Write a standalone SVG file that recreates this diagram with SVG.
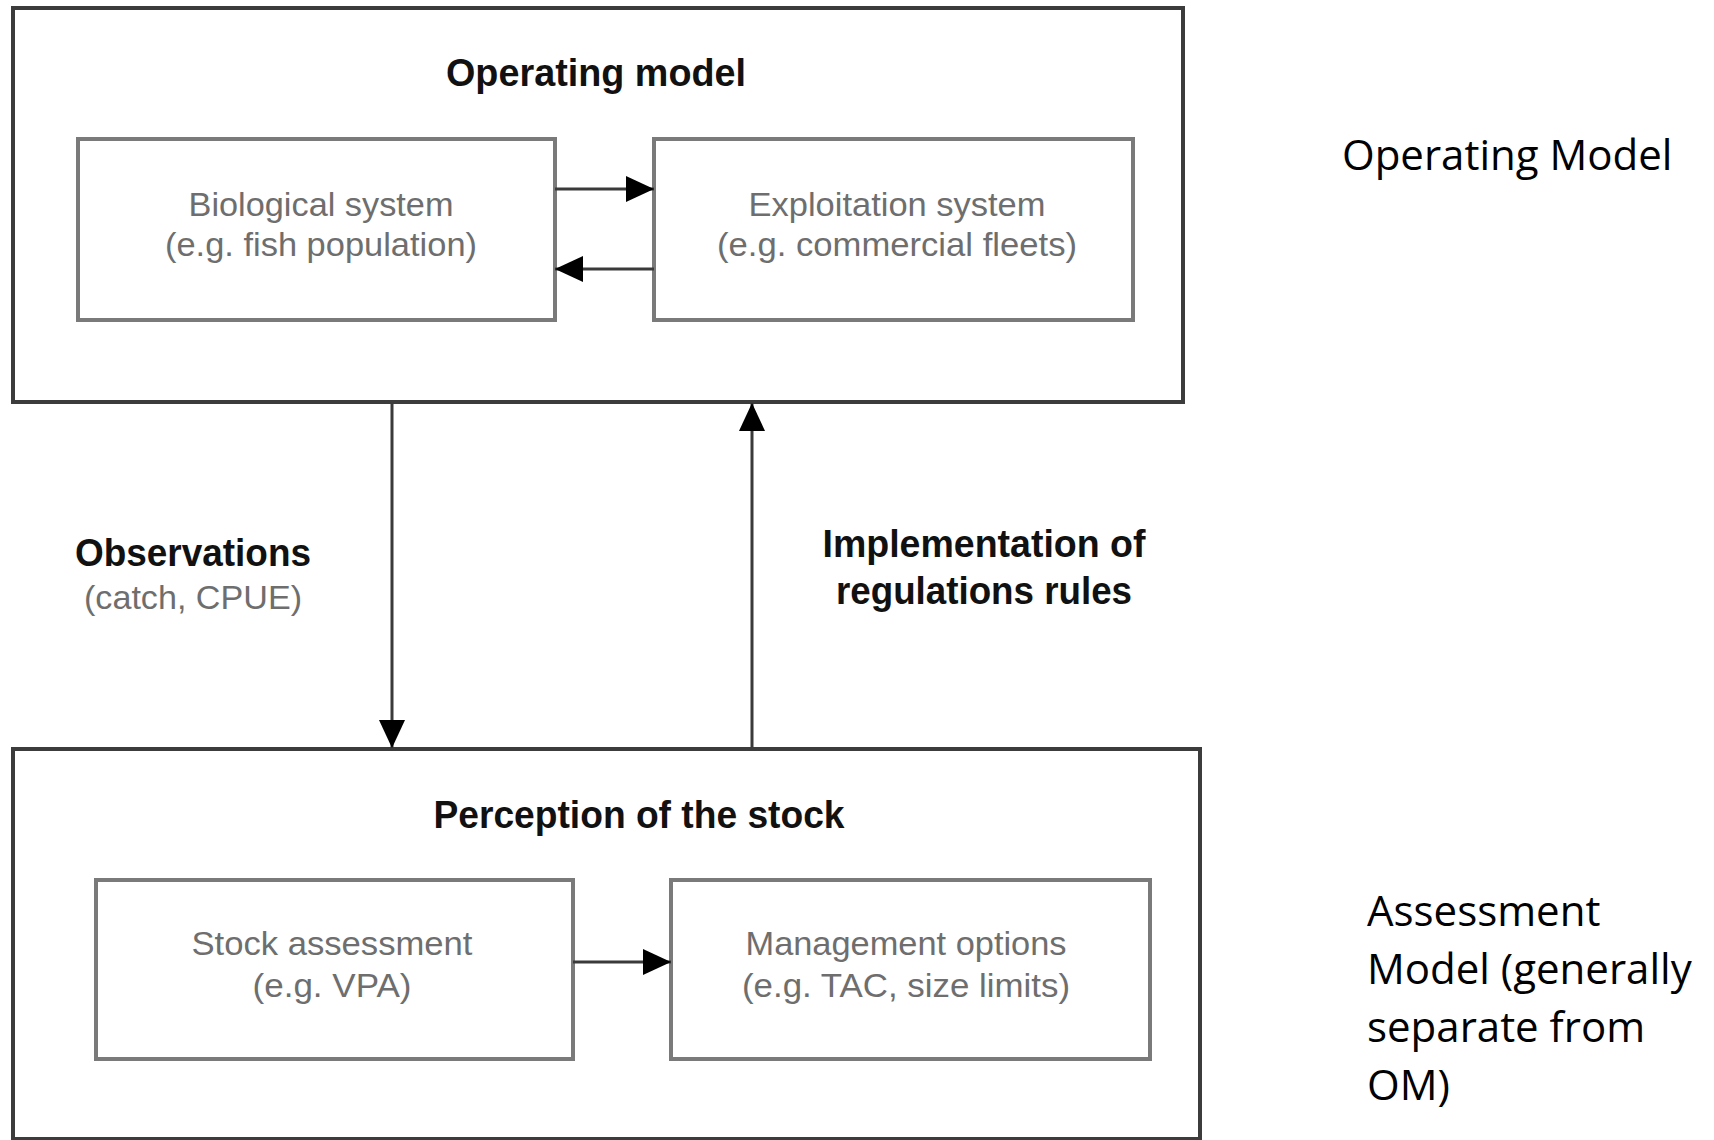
<svg xmlns="http://www.w3.org/2000/svg" width="1714" height="1140" viewBox="0 0 1714 1140">
<style>
.outer{fill:#fff;stroke:#3c3c3c;stroke-width:4}
.inner{fill:#fff;stroke:#7a7a7a;stroke-width:4}
.head{font-family:"Liberation Sans",Arial,sans-serif;font-weight:bold;fill:#111;text-anchor:middle;font-size:38px}
.sub{font-family:"Liberation Sans",Arial,sans-serif;fill:#6e6e6e;text-anchor:middle;font-size:33px}
.side{font-family:"Open Sans","Noto Sans",sans-serif;fill:#000;font-size:42px}
.con{stroke:#3a3a3a;stroke-width:3;fill:none}
</style>
<defs>
<marker id="arr" viewBox="0 0 28 26" refX="28" refY="13" markerWidth="28" markerHeight="26" markerUnits="userSpaceOnUse" orient="auto">
<path d="M0,0 L28,13 L0,26 z" fill="#000"/>
</marker>
</defs>
<rect width="1714" height="1140" fill="#fff"/>

<g id="operating-model">
<rect class="outer" x="13" y="8" width="1170" height="394"/>
<text class="head" x="596" y="86" textLength="300" lengthAdjust="spacingAndGlyphs">Operating model</text>
</g>
<g id="biological-system">
<rect class="inner" x="78" y="139" width="477" height="181"/>
<text class="sub" x="321" y="216" textLength="265" lengthAdjust="spacingAndGlyphs">Biological system</text>
<text class="sub" x="321" y="256" textLength="312" lengthAdjust="spacingAndGlyphs">(e.g. fish population)</text>
</g>
<g id="exploitation-system">
<rect class="inner" x="654" y="139" width="479" height="181"/>
<text class="sub" x="897" y="216" textLength="297" lengthAdjust="spacingAndGlyphs">Exploitation system</text>
<text class="sub" x="897" y="256" textLength="360" lengthAdjust="spacingAndGlyphs">(e.g. commercial fleets)</text>
</g>
<g id="perception">
<rect class="outer" x="13" y="749" width="1187" height="390"/>
<text class="head" x="639" y="828" textLength="411" lengthAdjust="spacingAndGlyphs">Perception of the stock</text>
</g>
<g id="stock-assessment">
<rect class="inner" x="96" y="880" width="477" height="179"/>
<text class="sub" x="332" y="955" textLength="281" lengthAdjust="spacingAndGlyphs">Stock assessment</text>
<text class="sub" x="332" y="997" textLength="159" lengthAdjust="spacingAndGlyphs">(e.g. VPA)</text>
</g>
<g id="management-options">
<rect class="inner" x="671" y="880" width="479" height="179"/>
<text class="sub" x="906" y="955" textLength="321" lengthAdjust="spacingAndGlyphs">Management options</text>
<text class="sub" x="906" y="997" textLength="328" lengthAdjust="spacingAndGlyphs">(e.g. TAC, size limits)</text>
</g>
<g id="labels">
<text class="head" x="193" y="566" textLength="236" lengthAdjust="spacingAndGlyphs">Observations</text>
<text class="sub" x="193" y="609" textLength="218" lengthAdjust="spacingAndGlyphs">(catch, CPUE)</text>
<text class="head" x="984" y="557" textLength="323" lengthAdjust="spacingAndGlyphs">Implementation of</text>
<text class="head" x="984" y="604" textLength="296" lengthAdjust="spacingAndGlyphs">regulations rules</text>
</g>
<g id="side-notes">
<text class="side" x="1342" y="170">Operating Model</text>
<text class="side" x="1367" y="926">Assessment</text>
<text class="side" x="1367" y="984">Model (generally</text>
<text class="side" x="1367" y="1042">separate from</text>
<text class="side" x="1367" y="1100">OM)</text>
</g>
<g id="connectors">
<line class="con" x1="555" y1="189" x2="654" y2="189" marker-end="url(#arr)"/>
<line class="con" x1="654" y1="269" x2="555" y2="269" marker-end="url(#arr)"/>
<line class="con" x1="392" y1="403" x2="392" y2="748" marker-end="url(#arr)"/>
<line class="con" x1="752" y1="748" x2="752" y2="403" marker-end="url(#arr)"/>
<line class="con" x1="573" y1="962" x2="671" y2="962" marker-end="url(#arr)"/>
</g>
</svg>
